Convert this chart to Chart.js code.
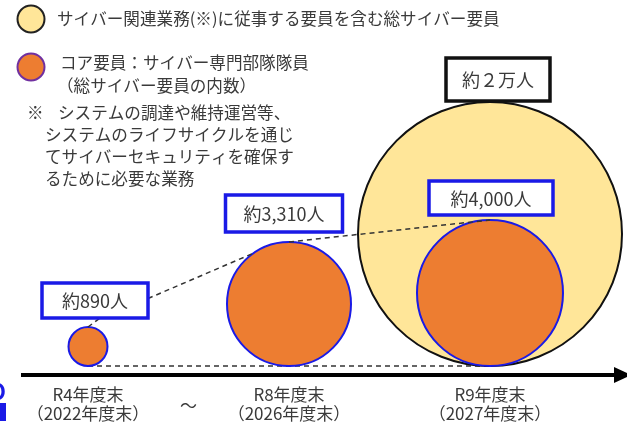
<!DOCTYPE html>
<html><head><meta charset="utf-8">
<script src="https://cdn.jsdelivr.net/npm/chart.js@4.4.1/dist/chart.umd.min.js"></script>
<style>html,body{margin:0;padding:0;background:#fff;overflow:hidden;}#wrap{width:627px;height:424px;position:relative;}</style>
</head><body><div id="wrap"><canvas id="c" width="627" height="424" style="width:627px;height:424px"></canvas></div>
<script>
// ---- data ----
const categories = ['R4年度末', 'R8年度末', 'R9年度末'];
const fiscalYearLabels = ['（2022年度末）', '（2026年度末）', '（2027年度末）'];
const coreStaff = [890, 3310, 4000];
const totalStaff = [null, null, 20000];
const coreLabels = ['約890人', '約3,310人', '約4,000人'];
const totalLabels = [null, null, '約２万人'];
const legendTotal = 'サイバー関連業務(※)に従事する要員を含む総サイバー要員';
const legendCore = ['コア要員：サイバー専門部隊隊員', '（総サイバー要員の内数）'];
const noteMark = '※';
const noteLines = ['システムの調達や維持運営等、', 'システムのライフサイクルを通じ', 'てサイバーセキュリティを確保す', 'るために必要な業務'];
const gapMark = '～';

const FONT = '"Noto Sans CJK JP", "Noto Sans", sans-serif';
const TEXT = '#3a3a3a';
const YELLOW = '#FFE699';
const ORANGE = '#ED7D31';
const BLUE = '#1a1ae6';

// bubbles sit on the baseline (value 0 of the y scale)
const baselinePlugin = {
  id: 'baseline',
  afterDatasetsUpdate(chart) {
    chart.data.datasets.forEach((ds, di) => {
      chart.getDatasetMeta(di).data.forEach(el => { el.y = el.y - el.options.radius; });
    });
  }
};

function labelBox(ctx, cx, cy, w, h, text, color, lw) {
  ctx.save();
  ctx.fillStyle = '#fff';
  ctx.fillRect(cx - w / 2, cy - h / 2, w, h);
  ctx.lineWidth = lw; ctx.strokeStyle = color;
  ctx.strokeRect(cx - w / 2, cy - h / 2, w, h);
  ctx.fillStyle = TEXT; ctx.font = '18px ' + FONT;
  ctx.textAlign = 'center'; ctx.textBaseline = 'middle';
  ctx.fillText(text, cx, cy + 1);
  ctx.restore();
}

const decorPlugin = {
  id: 'decor',
  beforeDatasetsDraw(chart) {
    const ctx = chart.ctx;
    const core = chart.getDatasetMeta(0).data;
    const a = core[0], b = core[core.length - 1];
    ctx.save();
    ctx.setLineDash([5, 4]); ctx.lineWidth = 1.5; ctx.strokeStyle = '#333';
    ctx.beginPath();
    ctx.moveTo(a.x, a.y + a.options.radius);
    ctx.lineTo(b.x, b.y + b.options.radius);
    ctx.stroke();
    ctx.restore();
  },
  afterDatasetsDraw(chart, args, opts) {
    const ctx = chart.ctx;
    const core = chart.getDatasetMeta(0).data;
    const total = chart.getDatasetMeta(1).data;
    const boxes = core.map((el, i) => {
      const s = opts.coreBoxes[i];
      const top = el.y - el.options.radius;
      return { cx: el.x + s.dx, cy: top - s.gap - s.h / 2, w: s.w, h: s.h, el, top };
    });
    ctx.save();
    ctx.setLineDash([5, 4]); ctx.lineWidth = 1.5; ctx.strokeStyle = '#333';
    ctx.beginPath();
    ctx.moveTo(boxes[0].el.x, boxes[0].top);
    ctx.lineTo(boxes[0].el.x + 12, boxes[0].cy + boxes[0].h / 2);
    ctx.stroke();
    const e1 = boxes[1].el, r1 = e1.options.radius, ang = -125 * Math.PI / 180;
    ctx.beginPath();
    ctx.moveTo(boxes[0].cx + boxes[0].w / 2, boxes[0].cy - 2);
    ctx.lineTo(e1.x + r1 * Math.cos(ang), e1.y + r1 * Math.sin(ang));
    ctx.stroke();
    ctx.beginPath();
    ctx.moveTo(e1.x, boxes[1].top);
    ctx.lineTo(boxes[2].el.x, boxes[2].top);
    ctx.stroke();
    ctx.restore();

    boxes.forEach((b, i) => labelBox(ctx, b.cx, b.cy, b.w, b.h, coreLabels[i], BLUE, 3.5));
    const s = opts.totalBox;
    total.forEach((el, k) => {
      const idx = totalData[k].i;
      const top = el.y - el.options.radius;
      labelBox(ctx, el.x + s.dx, top - s.gap - s.h / 2, s.w, s.h, totalLabels[idx], '#111', 3.5);
    });
  },
  afterDraw(chart) {
    const ctx = chart.ctx;
    const xs = chart.scales.x;
    ctx.save();
    const ay = xs.top;
    ctx.fillStyle = '#000';
    ctx.beginPath();
    ctx.moveTo(614, ay - 8); ctx.lineTo(631, ay); ctx.lineTo(614, ay + 8); ctx.closePath();
    ctx.fill();
    ctx.fillStyle = TEXT; ctx.font = '17px ' + FONT;
    ctx.textAlign = 'center'; ctx.textBaseline = 'middle';
    ctx.fillText(gapMark, (xs.getPixelForValue(0) + xs.getPixelForValue(1)) / 2, 406);
    ctx.lineWidth = 2;
    ctx.beginPath(); ctx.arc(31, 19, 13.5, 0, Math.PI * 2);
    ctx.fillStyle = YELLOW; ctx.fill(); ctx.strokeStyle = '#222'; ctx.stroke();
    ctx.beginPath(); ctx.arc(31, 67, 13.5, 0, Math.PI * 2);
    ctx.fillStyle = ORANGE; ctx.fill(); ctx.strokeStyle = '#7030A0'; ctx.stroke();
    ctx.fillStyle = TEXT; ctx.textAlign = 'left'; ctx.font = '16.6px ' + FONT;
    ctx.fillText(legendTotal, 57, 19);
    ctx.fillText(legendCore[0], 60, 63);
    ctx.fillText(legendCore[1], 57, 86);
    ctx.fillText(noteMark, 27, 113);
    ctx.fillText(noteLines[0], 58, 113);
    for (let i = 1; i < noteLines.length; i++) ctx.fillText(noteLines[i], 45, 113 + 22 * i);
    ctx.fillStyle = BLUE; ctx.font = 'bold 22px ' + FONT;
    ctx.fillText('O', -11, 392);
    ctx.fillRect(0, 403, 6, 18);
    ctx.restore();
  }
};

const coreData = coreStaff.map((v, i) => ({ x: i, y: 0, v, i }));
const totalData = totalStaff.map((v, i) => ({ x: i, y: 0, v, i })).filter(p => p.v != null);

new Chart(document.getElementById('c'), {
  type: 'bubble',
  data: {
    datasets: [
      { label: 'コア要員', data: coreData, order: 0, clip: false,
        backgroundColor: ORANGE, borderColor: BLUE, borderWidth: 2,
        radius: [19.5, 62, 73] },
      { label: '総サイバー要員', data: totalData, order: 1, clip: false,
        backgroundColor: YELLOW, borderColor: '#111', borderWidth: 2,
        radius: 132 }
    ]
  },
  options: {
    responsive: false,
    animation: false,
    events: [],
    layout: { autoPadding: false, padding: { left: 23, right: 0, top: 0, bottom: 0 } },
    plugins: {
      legend: { display: false }, tooltip: { enabled: false },
      decor: {
        coreBoxes: [{ dx: 7, gap: 9, w: 106, h: 35 }, { dx: -5, gap: 10, w: 117, h: 37 }, { dx: 1, gap: 5, w: 124, h: 34 }],
        totalBox: { dx: 8, gap: 1, w: 104, h: 43 }
      }
    },
    scales: {
      x: {
        type: 'linear', min: -0.3234, max: 2.6816,
        afterBuildTicks: (axis) => { axis.ticks = categories.map((c, i) => ({ value: i })); },
        afterFit: (axis) => { axis.height = 49; },
        grid: { display: false, drawTicks: false },
        border: { display: true, color: '#000', width: 4 },
        ticks: {
          autoSkip: false, maxRotation: 0, padding: 10, color: TEXT,
          font: { family: FONT, size: 17, lineHeight: 1.1 },
          callback: (v) => [categories[v], fiscalYearLabels[v]]
        }
      },
      y: { display: false, min: -9, max: 366 }
    }
  },
  plugins: [baselinePlugin, decorPlugin]
});
</script></body></html>
